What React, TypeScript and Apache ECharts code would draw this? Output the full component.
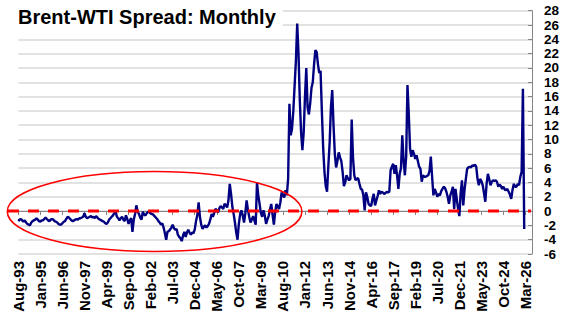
import React, { useEffect, useRef } from "react";
import * as echarts from "echarts";

const TITLE = "Brent-WTI Spread: Monthly";
const MONTH_NAMES = ["Jan", "Feb", "Mar", "Apr", "May", "Jun", "Jul", "Aug", "Sep", "Oct", "Nov", "Dec"];
const START_YEAR = 1993;
const START_MONTH = 7; // Aug
const CATEGORY_COUNT = 397; // Aug-93 .. Aug-26
const LABEL_STEP = 17; // months between axis labels

const spread1990s = [
  // 1993 Aug-Dec
  -1.4, -1.2, -1.1, -1.3, -1.5,
  // 1994
  -1.3, -1.6, -1.8, -1.9, -2.0, -1.6, -1.4, -1.3, -1.2, -1.0, -1.2, -1.4,
  // 1995
  -1.5, -1.3, -1.3, -1.1, -0.9, -1.1, -1.3, -1.4, -1.2, -1.1, -1.2, -1.4,
  // 1996
  -1.5, -1.6, -1.8, -1.9, -1.9, -1.7, -1.5, -1.4, -1.1, -0.8, -0.9, -1.1,
  // 1997
  -1.3, -1.4, -1.3, -1.2, -1.1, -1.2, -1.0, -1.0, -0.9, -0.8, -0.3, -0.8,
  // 1998
  -1.0, -0.9, -0.8, -0.7, -0.9, -0.8, -1.0, -0.7, -0.9, -1.1, -1.2, -1.3,
  // 1999
  -1.4, -1.5, -1.7, -1.8, -1.6, -1.2, -1.0, -0.8, -0.6, -0.3, -0.1, -0.8,
];

const spread2000s = [
  // 2000
  -1.0, -1.3, -1.0, -0.8, -1.2, -1.4, -0.6, -1.1, -1.8, -1.3, -1.0, -2.9,
  // 2001
  -1.2, -0.4, 0.8, -0.1, -0.4, -0.9, -1.2, -0.1, -0.5, -0.6, -0.3, -0.1,
  // 2002
  -0.2, -0.3, -0.4, -0.5, -0.7, -0.9, -1.1, -1.4, -1.6, -1.9, -1.7, -2.3,
  // 2003
  -3.1, -4.0, -2.9, -2.8, -2.6, -2.3, -1.9, -2.4, -2.6, -2.5, -3.3, -3.6,
  // 2004
  -3.8, -4.2, -3.4, -2.9, -3.6, -3.0, -2.6, -3.0, -3.3, -3.0, -3.1, -2.6,
  // 2005
  -1.4, -0.6, 1.2, -0.8, -1.9, -2.5, -2.2, -2.0, -2.3, -2.1, -1.8, -1.2,
  // 2006
  -0.4, -0.8, -0.3, 0.3, 0.1, -0.2, 0.4, 0.7, 0.5, 0.3, 1.0, 0.8,
  // 2007
  0.5, 1.5, 3.8, 2.4, 0.6, -0.4, -1.6, -3.0, -4.0, -1.8, -0.5, 0.1,
  // 2008
  -0.6, -1.6, -0.3, 1.5, 0.2, -0.8, -1.6, -1.2, -0.7, -1.3, -1.9, 4.0,
  // 2009
  2.2, 1.0, -0.3, -0.8, 0.1, -0.6, -1.8, -1.2, -0.7, 0.2, 1.0, -0.5,
];

const spread2010s = [
  // 2010
  -1.9, -0.2, 1.0, 0.6, 0.3, 1.2, 2.6, 2.2, 1.9, 2.9, 2.2, 4.5,
  // 2011
  15.0, 10.6, 11.5, 14.0, 17.5, 21.0, 26.2, 22.0, 15.5, 11.0, 8.5, 11.0,
  // 2012
  16.0, 20.0, 14.5, 13.5, 15.0, 17.2, 18.0, 20.5, 22.5, 22.2, 20.5, 19.3,
  // 2013
  19.6, 14.0, 8.9, 5.5, 3.5, 2.7, 6.3, 9.5, 14.5, 16.9, 12.0, 8.0,
  // 2014
  6.1, 7.0, 8.2, 7.5, 7.0, 5.5, 3.5, 4.0, 5.0, 4.6, 4.3, 4.5,
  // 2015
  12.8, 7.5, 5.0, 4.3, 4.5, 4.6, 3.8, 3.1, 3.0, 2.2, 0.1, 2.6,
  // 2016
  2.0, 1.0, 0.8, 0.7, 1.7, 2.4, 0.8, 1.5, 2.1, 2.9, 2.4, 2.7,
  // 2017
  2.6, 2.4, 2.5, 2.7, 2.6, 2.7, 5.7, 6.2, 6.6, 5.2, 6.4, 5.0,
  // 2018
  3.1, 5.2, 6.0, 10.6, 7.1, 5.0, 7.6, 17.6, 13.6, 8.7, 7.6, 8.5,
  // 2019
  8.0, 7.3, 7.8, 7.0, 6.2, 5.9, 4.1, 5.0, 4.8, 4.8, 4.9, 5.0,
];

const spread2020s = [
  // 2020
  5.6, 7.6, 4.8, 2.2, 3.1, 2.6, 2.0, 2.4, 2.2, 2.8, 3.1, 3.4,
  // 2021
  3.2, 2.7, 2.0, 1.0, 2.2, 2.7, 3.4, 0.3, 3.1, 1.7, 0.3, -0.7,
  // 2022
  2.5, 4.3, 0.8, 3.0, 4.5, 5.9, 6.1, 6.2, 6.1, 6.4, 6.3, 6.5,
  // 2023
  6.2, 4.5, 3.6, 4.5, 4.2, 3.6, 2.5, 1.3, 3.8, 5.2, 4.5, 3.6,
  // 2024
  4.1, 4.3, 4.2, 4.3, 4.1, 3.4, 3.7, 3.5, 3.1, 3.4, 3.0, 2.9,
  // 2025
  3.1, 2.7, 2.3, 1.7, 3.0, 3.8, 3.4, 3.4, 3.8, 3.6, 4.8, 5.5,
  // 2026 Jan-Feb
  17.1, -2.5,
];

const spread = [...spread1990s, ...spread2000s, ...spread2010s, ...spread2020s];

const categories = Array.from({ length: CATEGORY_COUNT }, (_, i) => {
  const t = START_MONTH + i;
  const y = START_YEAR + Math.floor(t / 12);
  return `${MONTH_NAMES[t % 12]}-${String(y % 100).padStart(2, "0")}`;
});

const FONT = "'Liberation Sans', Arial, sans-serif";

export default function App() {
  const ref = useRef<HTMLDivElement>(null);

  useEffect(() => {
    document.body.style.margin = "0";
    const chart = echarts.init(ref.current!, null, { renderer: "svg" });
    chart.setOption({
      animation: false,
      backgroundColor: "#fff",
      title: {
        text: TITLE,
        left: 13,
        top: 3,
        padding: [4, 7, 4, 5],
        backgroundColor: "#fff",
        textStyle: { fontFamily: FONT, fontSize: 20, fontWeight: "bold", color: "#000" },
      },
      grid: { left: 18.3, right: 44, top: 10.7, bottom: 71 },
      xAxis: {
        type: "category",
        data: categories,
        boundaryGap: false,
        axisLine: { lineStyle: { color: "#868686", width: 1 } },
        axisTick: { interval: LABEL_STEP - 1, length: 4, lineStyle: { color: "#868686" } },
        axisLabel: {
          interval: LABEL_STEP - 1,
          rotate: 90,
          margin: 7,
          fontFamily: FONT,
          fontSize: 15,
          fontWeight: "bold",
          color: "#000",
        },
        splitLine: { show: false },
      },
      yAxis: {
        type: "value",
        position: "right",
        min: -6,
        max: 28,
        interval: 2,
        axisLine: { show: true, lineStyle: { color: "#868686", width: 1 } },
        axisTick: { show: true, inside: true, length: 4, lineStyle: { color: "#868686" } },
        axisLabel: {
          margin: 12,
          fontFamily: FONT,
          fontSize: 13.5,
          lineHeight: 13,
          fontWeight: "bold",
          color: "#000",
        },
        splitLine: { lineStyle: { color: "#d9d9d9", width: 1.5 } },
      },
      series: [
        {
          type: "line",
          data: spread,
          symbol: "none",
          lineStyle: { color: "#000080", width: 2.4 },
          z: 3,
        },
      ],
    });
    const y0 = chart.convertToPixel({ yAxisIndex: 0 }, 0) as number;
    chart.setOption({
      graphic: [
        {
          type: "line",
          z: 10,
          shape: { x1: 8, y1: y0, x2: 531, y2: y0 },
          style: { stroke: "#ff0000", lineWidth: 3, lineDash: [11, 9] },
        },
        {
          type: "ellipse",
          z: 11,
          shape: { cx: 154.6, cy: 211.5, rx: 147.3, ry: 40 },
          style: { fill: "none", stroke: "#ff0000", lineWidth: 1.5 },
        },
      ],
    });
    return () => chart.dispose();
  }, []);

  return <div ref={ref} style={{ width: 576, height: 325 }} />;
}
